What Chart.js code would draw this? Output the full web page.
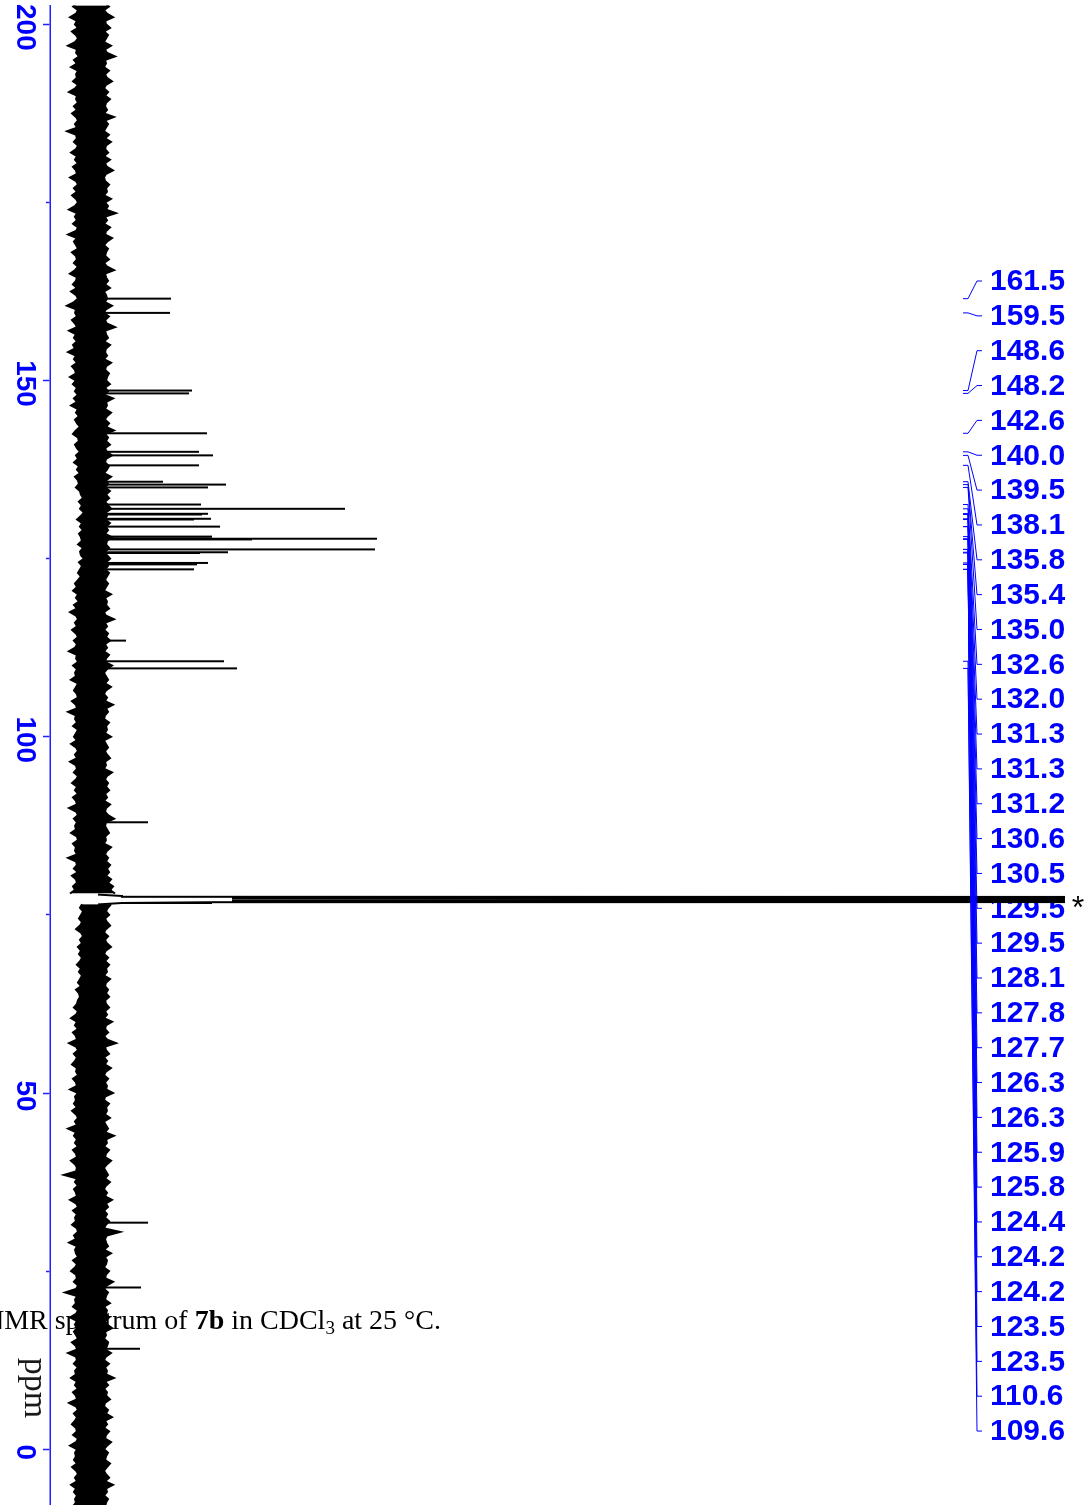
<!DOCTYPE html>
<html>
<head>
<meta charset="utf-8">
<script src="https://cdn.jsdelivr.net/npm/chart.js@4/dist/chart.umd.min.js"></script>
<style>
  html, body { margin: 0; padding: 0; background: #fff; overflow: hidden; width: 1090px; height: 1505px; }
  /* the spectrum is laid out with the ppm axis horizontal, then turned a quarter clockwise */
  #wrap { position: absolute; left: 0; top: 0; width: 1505px; height: 1090px;
          transform-origin: 0 0; transform: translate(1090px, 0) rotate(90deg); }
  #caption { position: absolute; right: 649px; top: 1306px; white-space: nowrap; color: #000;
             font: 28px/28px "Liberation Serif", "Times New Roman", serif; }
  #caption sub { font-size: 0.68em; vertical-align: -0.28em; line-height: 0; }
  #caption sup { font-size: 0.68em; vertical-align: 0.45em; line-height: 0; }
</style>
</head>
<body>
<div id="wrap"><canvas id="nmr" width="1505" height="1090"></canvas></div>
<div id="caption"><sup>13</sup>C NMR spectrum of <b>7b</b> in CDCl<sub>3</sub> at 25 °C.</div>
<script>
// ---- chemical shift axis ----
const ppmMin = -7.83;
const ppmMax = 202.66;
const majorTicks = [0, 50, 100, 150, 200];

// ---- labelled 13C signals (ppm) and their heights (a.u.) ----
const peakLabels = ['161.5', '159.5', '148.6', '148.2', '142.6', '140.0', '139.5', '138.1',
  '135.8', '135.4', '135.0', '132.6', '132.0', '131.3', '131.3', '131.2', '130.6', '130.5',
  '129.5', '129.5', '128.1', '127.8', '127.7', '126.3', '126.3', '125.9', '125.8', '124.4',
  '124.2', '124.2', '123.5', '123.5', '110.6', '109.6'];
const peakShifts = [161.5, 159.5, 148.6, 148.2, 142.6, 140.0, 139.5, 138.1,
  135.8, 135.4, 135.0, 132.6, 132.0, 131.3, 131.3, 131.2, 130.6, 130.5,
  129.5, 129.5, 128.1, 127.8, 127.7, 126.3, 126.3, 125.9, 125.8, 124.4,
  124.2, 124.2, 123.5, 123.5, 110.6, 109.6];
const peakHeights = [79, 78, 100, 97, 115, 107, 121, 107,
  71, 134, 116, 109, 253, 116, 104, 110, 119, 102,
  128, 112, 120, 285, 160, 283, 140, 136, 108, 116,
  105, 98, 102, 90, 132, 145];

// ---- small unlabelled signals ----
const extraShifts = [113.5, 88.0, 31.8, 22.7, 14.1];
const extraHeights = [34, 56, 56, 49, 48];

// ---- CDCl3 triplet (marked *) ----
const solventShifts = [77.85, 77.65, 77.54, 77.48, 77.32, 77.16, 77.00, 76.84, 76.78, 76.67, 76.47];
const solventHeights = [6, 30, 120, 3000, 140, 3000, 140, 3000, 120, 30, 6];

// ---- baseline noise envelope, sampled every 0.5 ppm from 203 down to -8 ----
const noiseStart = 203;
const noiseStep = 0.5;
const noiseLow = [
  -15, -19, -14, -16, -22, -15, -17, -14, -20, -16,
  -14, -17, -24, -15, -16, -13, -18, -15, -21, -14,
  -16, -15, -19, -14, -17, -23, -15, -16, -14, -18,
  -15, -20, -16, -14, -17, -15, -25, -16, -15, -18,
  -14, -16, -21, -15, -17, -14, -19, -16, -15, -22,
  -16, -14, -18, -15, -20, -16, -14, -17, -23, -15,
  -17, -15, -19, -14, -16, -24, -15, -18, -16, -14,
  -20, -16, -15, -18, -14, -17, -22, -15, -16, -19,
  -15, -21, -16, -14, -18, -25, -16, -17, -15, -20,
  -17, -15, -23, -16, -18, -15, -19, -17, -24, -16,
  -18, -15, -20, -17, -16, -22,
  -16, -19, -15, -17, -14, -18, -15, -21, -14, -16,
  -13, -17, -15, -12, -16, -19, -14, -13, -17, -15,
  -12, -16, -14, -18, -13, -15, -12, -17, -14, -13,
  -16, -12,
  -11, -9, -13, -10, -12, -8, -11, -15, -10, -12,
  -9, -13, -11, -10, -14, -9, -12, -11, -8, -13,
  -10, -12, -14, -11,
  -14, -17, -15, -19, -14, -16, -13, -18, -15, -22,
  -16, -14, -17, -15, -20, -16, -14, -18, -15, -17,
  -23, -15, -16, -14, -19, -15, -17, -16, -21, -14,
  -16, -18, -15, -14, -20, -16, -15, -24, -16, -17,
  -15, -19, -14, -16, -18, -15, -21, -16, -14, -17,
  -15, -22, -16, -15, -18, -14, -16, -20, -15, -17,
  -14, -19, -16, -15, -23, -16, -14, -18, -15, -17,
  -16, -21, -15, -14, -19, -16, -17, -15, -24, -16,
  -15, -18, -14, -20, -16, -15, -19, -17, -22,
  null, null,
  -10, -12, -9, -11, -13, -10, -12, -16, -11, -9,
  -12, -10, -14, -11, -13, -10, -12, -15, -11, -13,
  -10, -12, -14, -11, -16, -13, -12, -14,
  -15, -18, -14, -16, -21, -15, -17, -14, -19, -16,
  -15, -23, -16, -14, -18, -15, -17, -20, -15, -16,
  -14, -19, -16, -15, -22, -14, -17, -16, -18, -15,
  -20, -16, -14, -17, -15, -24, -16, -18, -15, -17,
  -14, -19, -16, -15, -21, -17, -15, -16, -28, -15,
  -17, -14, -18, -16, -15, -22, -16, -14, -19, -15,
  -17, -16, -20, -15, -14, -18, -16, -23, -15, -17,
  -16, -14, -19, -15, -17, -21, -16, -15, -18, -14,
  -16, -27, -15, -17, -16, -19, -14, -16, -22, -15,
  -17, -15, -18, -16, -14, -20, -16, -15, -24, -16,
  -15, -18, -14, -17, -16, -21, -15, -17, -14, -19,
  -16, -15, -23, -16, -14, -18, -15, -17, -20, -16,
  -15, -19, -14, -16, -22, -15, -17, -16, -18, -15,
  -20, -16, -14, -17, -15, -21, -16, -18, -15, -17,
  -16, -19];
const noiseHigh = [
  13, 17, 12, 15, 21, 13, 14, 18, 12, 16,
  14, 12, 19, 13, 15, 23, 13, 14, 12, 17,
  13, 15, 20, 14, 12, 16, 13, 18, 14, 13,
  15, 12, 22, 13, 16, 14, 12, 17, 13, 19,
  14, 13, 16, 12, 18, 13, 15, 21, 14, 12,
  13, 17, 14, 15, 12, 19, 13, 16, 14, 24,
  13, 15, 12, 18, 14, 13, 20, 15, 12, 16,
  14, 13, 17, 12, 15, 22, 13, 14, 16, 13,
  18, 12, 14, 15, 13, 20, 14, 12, 17, 13,
  15, 23, 13, 14, 16, 12, 18, 14, 13, 15,
  12, 19, 14, 13, 17, 15,
  14, 18, 13, 16, 12, 21, 14, 15, 13, 19,
  15, 13, 17, 14, 22, 13, 16, 14, 18, 13,
  15, 20, 14, 13, 17, 15, 12, 19, 14, 16,
  13, 18,
  14, 17, 13, 16, 19, 14, 15, 13, 18, 14,
  16, 13, 20, 15, 14, 17, 13, 15, 18, 14,
  16, 13, 17, 15,
  13, 16, 14, 12, 19, 13, 15, 14, 17, 12,
  14, 22, 13, 15, 12, 16, 14, 18, 13, 15,
  12, 17, 14, 13, 20, 15, 12, 14, 16, 13,
  19, 14, 12, 15, 13, 21, 14, 16, 13, 12,
  17, 14, 15, 13, 19, 12, 14, 16, 13, 15,
  18, 13, 14, 12, 20, 15, 13, 16, 14, 17,
  13, 15, 12, 18, 14, 13, 16, 22, 14, 13,
  15, 17, 13, 14, 12, 19, 15, 13, 16, 14,
  18, 15, 17, 14, 19, 16, 21, 18, 23,
  null, null,
  19, 16, 14, 17, 13, 15, 18, 14, 12, 16,
  13, 15, 19, 14, 12, 16, 13, 17, 14, 15,
  12, 18, 14, 13, 16, 14, 17, 13,
  14, 17, 13, 15, 12, 20, 14, 13, 16, 12,
  15, 24, 13, 14, 17, 12, 15, 13, 19, 14,
  12, 16, 13, 15, 14, 21, 13, 12, 17, 14,
  15, 13, 18, 12, 14, 16, 13, 22, 14, 15,
  12, 17, 14, 13, 19, 15, 12, 14, 16, 13,
  18, 14, 12, 15, 13, 20, 14, 16, 12, 15,
  13, 17, 14, 12, 28, 15, 13, 14, 16, 12,
  19, 13, 15, 14, 12, 17, 14, 13, 21, 15,
  12, 16, 14, 13, 18, 12, 15, 14, 17, 13,
  15, 20, 13, 14, 12, 16, 15, 13, 19, 14,
  12, 17, 13, 15, 14, 22, 13, 16, 12, 15,
  14, 18, 13, 12, 16, 14, 20, 13, 15, 12,
  17, 14, 13, 19, 15, 12, 16, 14, 13, 18,
  15, 12, 14, 17, 13, 21, 14, 15, 12, 16,
  14, 13];

// ---- styling ----
const BLUE = '#0000ff';
const AXIS_BLUE = '#1f1fff';
const SANS = '"Liberation Sans", Arial, Helvetica, sans-serif';
const SERIF = '"Liberation Serif", "Times New Roman", serif';
const FRAME_W = 1090;          // width of the turned figure; canvas y = FRAME_W - x
const LABEL_FIRST = 281;       // first shift label centre along the ppm axis (px)
const LABEL_STEP = 34.85;      // spacing of the stacked shift labels (px)

// ---- datasets ----
const noiseUpper = noiseHigh.map((v, i) => ({ x: noiseStart - i * noiseStep, y: v }));
const noiseLower = noiseLow.map((v, i) => ({ x: noiseStart - i * noiseStep, y: v }));

const sticks = [];
function addSticks(shifts, heights) {
  shifts.forEach((p, i) => {
    sticks.push({ x: p, y: 0 }, { x: p, y: heights[i] }, { x: p, y: null });
  });
}
addSticks(peakShifts, peakHeights);
addSticks(extraShifts, extraHeights);

const solventTrace = solventShifts.map((p, i) => ({ x: p, y: solventHeights[i] }));

// shift labels, connector lines, solvent mark and axis unit
const annotate = {
  id: 'annotate',
  beforeDatasetsDraw(chart) {
    const ctx = chart.ctx;
    ctx.save();
    ctx.fillStyle = BLUE;
    ctx.font = 'bold 30px ' + SANS;
    ctx.textAlign = 'left';
    ctx.textBaseline = 'middle';
    peakLabels.forEach((t, i) => {
      const u = LABEL_FIRST + i * LABEL_STEP;
      ctx.save();
      ctx.translate(u, FRAME_W - 990);
      ctx.rotate(-Math.PI / 2);
      ctx.fillText(t, 0, 1);
      ctx.restore();
    });
    ctx.restore();
  },
  afterDatasetsDraw(chart) {
    const ctx = chart.ctx;
    const xs = chart.scales.x;
    ctx.save();
    ctx.strokeStyle = BLUE;
    ctx.lineWidth = 1;
    peakShifts.forEach((p, i) => {
      const up = xs.getPixelForValue(p);
      const ul = LABEL_FIRST + i * LABEL_STEP;
      ctx.beginPath();
      ctx.moveTo(up, FRAME_W - 963);
      ctx.lineTo(up, FRAME_W - 968);
      ctx.lineTo(ul, FRAME_W - 977);
      ctx.lineTo(ul, FRAME_W - 982);
      ctx.stroke();
    });

    // solvent marker beside the CDCl3 signal
    ctx.fillStyle = '#000';
    ctx.font = '32px ' + SANS;
    ctx.textAlign = 'center';
    ctx.textBaseline = 'alphabetic';
    ctx.save();
    ctx.translate(xs.getPixelForValue(77.16), FRAME_W - 1078);
    ctx.rotate(-Math.PI / 2);
    ctx.fillText('*', 0, 0.57 * 32);
    ctx.restore();

    // axis unit
    ctx.fillStyle = '#1a1a1a';
    ctx.font = '34px ' + SERIF;
    ctx.textAlign = 'center';
    ctx.fillText('ppm', xs.getPixelForValue(8.6), FRAME_W - 25);
    ctx.restore();
  }
};

new Chart(document.getElementById('nmr'), {
  type: 'scatter',
  data: {
    datasets: [
      { data: noiseUpper, borderColor: '#000', backgroundColor: '#000', borderWidth: 2,
        fill: '+1', showLine: true, pointRadius: 0, tension: 0, spanGaps: false },
      { data: noiseLower, borderColor: '#000', borderWidth: 2,
        fill: false, showLine: true, pointRadius: 0, tension: 0, spanGaps: false },
      { data: sticks, borderColor: '#000', borderWidth: 2,
        fill: false, showLine: true, pointRadius: 0, tension: 0, spanGaps: false },
      { data: solventTrace, borderColor: '#000', borderWidth: 2,
        fill: false, showLine: true, pointRadius: 0, tension: 0 }
    ]
  },
  options: {
    responsive: false,
    animation: false,
    devicePixelRatio: 1,
    events: [],
    layout: { padding: { top: 25, left: 0, right: 0, bottom: 0 } },
    plugins: { legend: { display: false }, tooltip: { enabled: false } },
    scales: {
      x: {
        type: 'linear',
        position: 'bottom',
        reverse: true,
        min: ppmMin,
        max: ppmMax,
        afterFit(scale) { scale.height = 50; },
        border: { display: true, color: AXIS_BLUE, width: 1.5 },
        grid: {
          display: true,
          drawOnChartArea: false,
          drawTicks: true,
          tickLength: 7,
          tickWidth: 1.5,
          tickColor: AXIS_BLUE,
          tickBorderDash: (c) => (c.tick && !majorTicks.includes(c.tick.value)) ? [3.5, 100] : []
        },
        ticks: {
          stepSize: 25,
          includeBounds: false,
          autoSkip: false,
          minRotation: 0,
          maxRotation: 0,
          padding: 1,
          labelOffset: 3,
          color: BLUE,
          font: { family: SANS, size: 28, weight: 'bold' },
          callback: (v) => majorTicks.includes(v) ? String(v) : ''
        }
      },
      y: { display: false, min: -42, max: 973 }
    }
  },
  plugins: [annotate]
});
</script>
</body>
</html>
